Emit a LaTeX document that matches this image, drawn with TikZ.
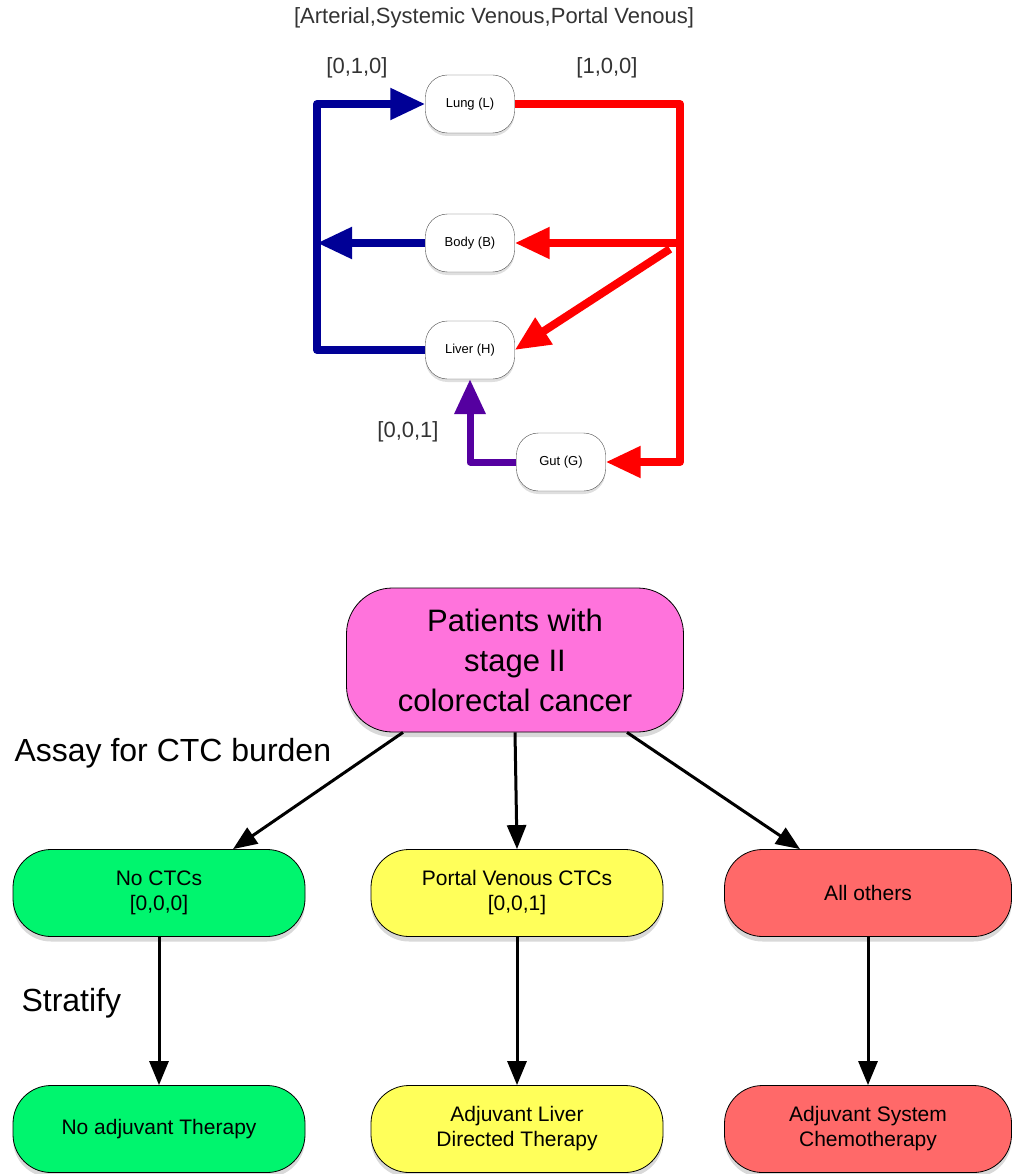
\documentclass[tikz,border=0pt]{standalone}
\usepackage{fontspec}
\setmainfont{Liberation Sans}
\usetikzlibrary{arrows.meta,shadows}
\definecolor{artred}{RGB}{255,0,0}
\definecolor{venblue}{RGB}{0,0,150}
\definecolor{portpurple}{RGB}{85,0,160}
\definecolor{pinkfill}{RGB}{255,115,220}
\definecolor{greenfill}{RGB}{0,245,110}
\definecolor{yellowfill}{RGB}{255,255,90}
\definecolor{salmonfill}{RGB}{255,105,105}
\begin{document}
\begin{tikzpicture}[x=1pt,y=-1pt]
	% Styles
	\tikzset{organ/.style={rectangle,rounded corners=22pt,draw=black!70,fill=white,
			minimum width=89pt,minimum height=58pt,inner sep=0pt,font=\fontsize{13}{15}\selectfont,
			drop shadow={opacity=0.25,shadow xshift=0pt,shadow yshift=-3pt}},
		flow/.style={rectangle,rounded corners=38pt,draw=black,thick,
			minimum width=292pt,minimum height=87pt,inner sep=0pt,align=center,
			font=\fontsize{21}{25}\selectfont,
			drop shadow={opacity=0.3,shadow xshift=0pt,shadow yshift=-5pt}},
		vessel/.style={line width=8pt,line join=round,-{Triangle[length=35pt,width=30pt]}},
		step arrow/.style={line width=3pt,-{Triangle[length=24pt,width=19pt]}},
		biglabel/.style={font=\fontsize{32}{38}\selectfont,anchor=west},
		veclabel/.style={font=\fontsize{22}{26}\selectfont,text=black!80}}
	\useasboundingbox (0,0) rectangle (1012,1174);
	
	% circulation model
	\node[veclabel] (header) at (494,18) {[Arterial,Systemic Venous,Portal Venous]};
	\node[veclabel] (vec010) at (357,68) {[0,1,0]};
	\node[veclabel] (vec100) at (607,68) {[1,0,0]};
	\node[veclabel] (vec001) at (408,432) {[0,0,1]};
	
	\node[organ] (Lung)  at (470,104) {Lung (L)};
	\node[organ] (Body)  at (470,243) {Body (B)};
	\node[organ] (Liver) at (470,350) {Liver (H)};
	\node[organ] (Gut)   at (561,462) {Gut (G)};
	
	\coordinate (artcorner) at (680,104);
	\coordinate (artsplit) at (680,243);
	\coordinate (artdiag) at (670,249);
	\coordinate (vencorner) at (317,350);
	\coordinate (venjoin) at (317,243);
	
	% arterial (red)
	\draw[vessel,artred] (Lung.east) -- (artcorner) |- (Gut.east);
	\draw[vessel,artred] (artsplit) -- (Body.east);
	\draw[vessel,artred] (artdiag) -- (Liver.east);
	% systemic venous (blue)
	\draw[vessel,venblue] (Liver.west) -- (vencorner) |- (Lung.west);
	\draw[vessel,venblue] (Body.west) -- (venjoin);
	% portal venous (purple)
	\draw[vessel,portpurple,line width=7pt] (Gut.west) -| (Liver.south);
	
	% stratification tree
	\node[flow,fill=pinkfill,minimum width=337pt,minimum height=144pt,rounded corners=46pt,
		font=\fontsize{31}{40}\selectfont] (Patients) at (515,660) {Patients with\\stage II\\colorectal cancer};
	
	\node[flow,fill=greenfill]  (NoCTC)  at (159,893) {No CTCs\\{}[0,0,0]};
	\node[flow,fill=yellowfill] (Portal) at (517,893) {Portal Venous CTCs\\{}[0,0,1]};
	\node[flow,fill=salmonfill,minimum width=287pt] (Others) at (868,893) {All others};
	
	\node[flow,fill=greenfill]  (NoTher)    at (159,1129) {No adjuvant Therapy};
	\node[flow,fill=yellowfill] (LiverTher) at (517,1129) {Adjuvant Liver\\Directed Therapy};
	\node[flow,fill=salmonfill,minimum width=287pt] (ChemoTher) at (868,1129) {Adjuvant System\\Chemotherapy};
	
	\node[biglabel] (assay) at (11,753) {Assay for CTC burden};
	\node[biglabel] (stratify) at (18,1003) {Stratify};
	
	% Draw arrows
	\draw[step arrow] ([xshift=-112pt]Patients.south) -- ([xshift=74pt]NoCTC.north);
	\draw[step arrow] (Patients.south) -- (Portal.north);
	\draw[step arrow] ([xshift=112pt]Patients.south) -- ([xshift=-68pt]Others.north);
	\foreach \a/\b in {NoCTC/NoTher,Portal/LiverTher,Others/ChemoTher} {
		\draw[step arrow] (\a.south) -- (\b.north);
	}
\end{tikzpicture}
\end{document}
